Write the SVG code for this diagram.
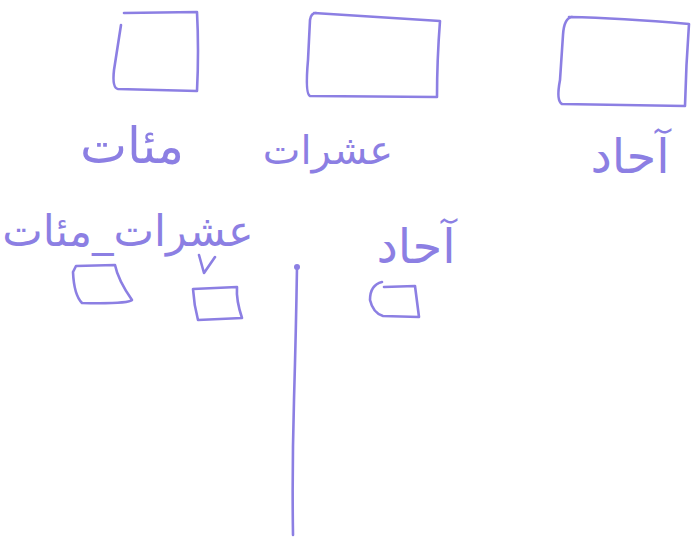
<svg xmlns="http://www.w3.org/2000/svg" width="692" height="539" viewBox="0 0 692 539">
<style>
.s{fill:none;stroke:#8c7fe3;stroke-width:2.6;stroke-linecap:round;stroke-linejoin:round}
.t{font-family:"DejaVu Sans","Noto Sans",sans-serif;fill:#8c7fe3}
</style>
<rect width="692" height="539" fill="#ffffff"/>
<g id="box-hundreds">
<path class="s" d="M124 13 L197 12 Q199 50 197 91 L118 89 Q112 88 114 70 L121 25"/>
</g>
<g id="box-tens">
<path class="s" d="M314 13 L440 21 Q437 60 437 97 L310 96 Q305 94 308 60 L310 20 Q311 13 316 13"/>
</g>
<g id="box-units">
<path class="s" d="M569 17 Q620 18 689 24 Q686 65 685 106 L562 104 Q556 101 560 80 L563 35 Q564 18 572 17"/>
</g>
<g id="label-hundreds"><text class="t" x="132" y="163" text-anchor="middle" direction="rtl" style="font-size:50px">مئات</text></g>
<g id="label-tens"><text class="t" x="328" y="164" text-anchor="middle" direction="rtl" style="font-size:40px">عشرات</text></g>
<g id="label-units"><text class="t" x="630" y="173" text-anchor="middle" direction="rtl" style="font-size:48px">آحاد</text></g>
<g id="label-tens-hundreds"><text class="t" x="128" y="246" text-anchor="middle" direction="rtl" style="font-size:43px">عشرات_مئات</text></g>
<g id="label-units2"><text class="t" x="416" y="263" text-anchor="middle" direction="rtl" style="font-size:48px">آحاد</text></g>
<g id="tick"><path class="s" d="M199 255 L204 273 L215 257"/></g>
<g id="small-box-1"><path class="s" d="M76 266 L115 265 Q118 280 132 300 Q128 304 82 303 Q74 295 73 272 Z"/></g>
<g id="small-box-2"><path class="s" d="M193 289 L237 287 Q236 300 242 318 L198 320 Q194 305 193 289 Z"/></g>
<g id="small-box-3"><path class="s" d="M382 282 Q370 285 370 300 Q373 313 383 316 L419 317 L415 286 L384 287"/></g>
<g id="connectors">
<circle cx="297" cy="267" r="3" fill="#8c7fe3"/>
<path class="s" d="M297 267 Q296 330 294 400 Q292 470 293 535"/>
</g>
</svg>
